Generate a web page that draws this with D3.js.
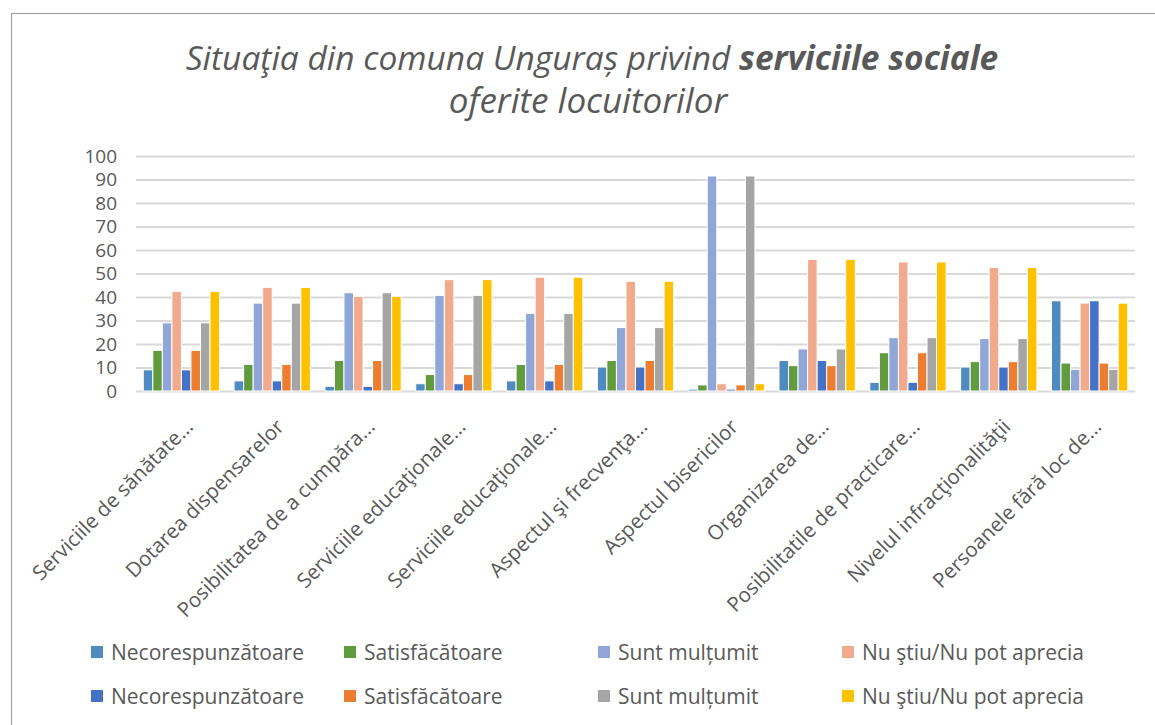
<!DOCTYPE html>
<html><head><meta charset="utf-8">
<script src="https://cdn.jsdelivr.net/npm/d3@7"></script>
<style>
body{margin:0;background:#fff;}
svg{display:block;}
text{font-family:"Open Sans",sans-serif;fill:#595959;}
</style></head>
<body>
<svg id="c" width="1155" height="725"></svg>
<script>
const categories = ["Serviciile de sănătate...", "Dotarea dispensarelor", "Posibilitatea de a cumpăra...", "Serviciile educaţionale...", "Serviciile educaţionale...", "Aspectul şi frecvenţa...", "Aspectul bisericilor", "Organizarea de...", "Posibilitatile de practicare...", "Nivelul infracţionalităţii", "Persoanele fără loc de..."];
const seriesNames = ["Necorespunzătoare", "Satisfăcătoare", "Sunt mulțumit", "Nu ştiu/Nu pot aprecia", "Necorespunzătoare", "Satisfăcătoare", "Sunt mulțumit", "Nu ştiu/Nu pot aprecia"];
const necor1   = [9.0, 4.3, 2.0, 3.1, 4.3, 10.2, 0.8, 13.0, 3.7, 10.2, 38.4];
const satisf1  = [17.3, 11.3, 13.0, 7.0, 11.3, 13.0, 2.6, 10.8, 16.3, 12.5, 11.9];
const multum1  = [29.0, 37.4, 41.8, 40.7, 33.0, 27.0, 91.5, 17.9, 22.7, 22.3, 9.2];
const nustiu1  = [42.4, 44.1, 40.3, 47.4, 48.4, 46.7, 3.1, 56.0, 54.9, 52.6, 37.4];
const necor2   = [9.0, 4.3, 2.0, 3.1, 4.3, 10.2, 0.8, 13.0, 3.7, 10.2, 38.4];
const satisf2  = [17.3, 11.3, 13.0, 7.0, 11.3, 13.0, 2.6, 10.8, 16.3, 12.5, 11.9];
const multum2  = [29.0, 37.4, 41.8, 40.7, 33.0, 27.0, 91.5, 17.9, 22.7, 22.3, 9.2];
const nustiu2  = [42.4, 44.1, 40.3, 47.4, 48.4, 46.7, 3.1, 56.0, 54.9, 52.6, 37.4];
const yTicks = [0, 10, 20, 30, 40, 50, 60, 70, 80, 90, 100];
const colors = ["#4f8bc0", "#629b3e", "#8fa6d7", "#f2aa8c", "#4472c4", "#ed7d31", "#a5a5a5", "#ffc000"];

const series = [necor1, satisf1, multum1, nustiu1, necor2, satisf2, multum2, nustiu2];

const svg = d3.select("#c");
const pLeft = 136, pRight = 1135, pTop = 156, pBottom = 391;

// chart frame
svg.append("rect").attr("x", 11.5).attr("y", 13.5).attr("width", 1160).attr("height", 730)
  .attr("fill", "none").attr("stroke", "#a3a3a3").attr("stroke-width", 1.2);

// title
const title = svg.append("text").attr("text-anchor", "middle").attr("font-style", "italic")
  .attr("font-size", 33.5).attr("x", 592).attr("y", 70);
title.append("tspan").text("Situaţia din comuna Unguraș privind ");
title.append("tspan").attr("font-weight", "bold").text("serviciile sociale");
svg.append("text").attr("text-anchor", "middle").attr("font-style", "italic")
  .attr("font-size", 35).attr("x", 588).attr("y", 113).text("oferite locuitorilor");

const y = d3.scaleLinear().domain([0, 100]).range([pBottom, pTop]);
const x0 = d3.scaleBand().domain(d3.range(categories.length)).range([pLeft, pRight])
  .paddingInner(0.16).paddingOuter(0.08);
const x1 = d3.scaleBand().domain(d3.range(series.length)).range([0, x0.bandwidth()]);

// gridlines
const yAxis = d3.axisLeft(y).tickValues(yTicks).tickSize(-(pRight - pLeft)).tickPadding(19);
const gy = svg.append("g").attr("transform", `translate(${pLeft},0)`).call(yAxis);
gy.select(".domain").remove();
gy.selectAll(".tick line").attr("stroke", "#d9d9d9").attr("stroke-width", 2);
gy.selectAll(".tick text").attr("font-size", 19).attr("fill", "#595959")
  .attr("font-family", "'Liberation Sans',Arial,sans-serif");

// bars
const groups = svg.append("g").selectAll("g").data(categories).join("g")
  .attr("transform", (d, i) => `translate(${x0(i)},0)`);
groups.selectAll("rect").data((d, i) => series.map((s, k) => ({k, v: s[i]}))).join("rect")
  .attr("x", d => x1(d.k))
  .attr("width", x1.bandwidth())
  .attr("y", d => y(d.v))
  .attr("height", d => y(0) - y(d.v))
  .attr("fill", d => colors[d.k])
  .attr("stroke", "#fff").attr("stroke-width", 1);

// x axis labels
const xAxis = d3.axisBottom(x0).tickSize(0).tickFormat(i => categories[i]);
const gx = svg.append("g").attr("transform", `translate(0,${pBottom})`).call(xAxis);
gx.select(".domain").remove();
gx.selectAll(".tick text").attr("font-size", 20.5).attr("fill", "#595959")
  .attr("font-family", "'Open Sans',sans-serif")
  .attr("text-anchor", "end").attr("dy", null).attr("y", 0)
  .attr("transform", "translate(13,37) rotate(-45)");

// legend
const legX = [91, 344, 598, 842];
const legY = [652, 696];
const leg = svg.append("g").selectAll("g").data(seriesNames).join("g")
  .attr("transform", (d, k) => `translate(${legX[k % 4]},${legY[Math.floor(k / 4)]})`);
leg.append("rect").attr("x", 0).attr("y", -6).attr("width", 12).attr("height", 12)
  .attr("fill", (d, k) => colors[k]);
leg.append("text").attr("x", 20).attr("y", 7.5).attr("font-size", 21).text(d => d);
</script>
</body></html>
